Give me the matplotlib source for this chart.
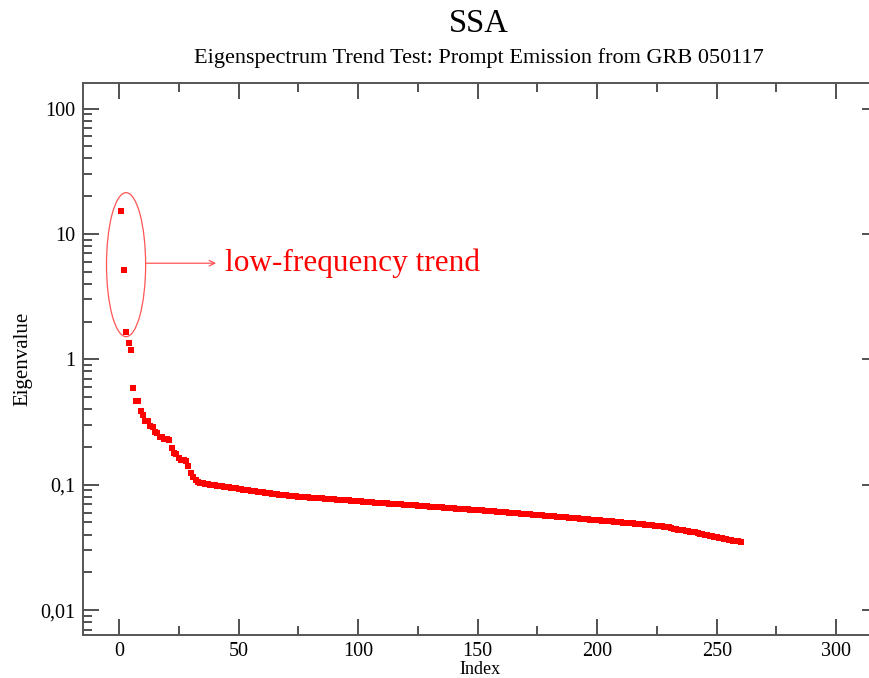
import matplotlib
matplotlib.use("Agg")
import matplotlib.pyplot as plt
from matplotlib.patches import Ellipse
from matplotlib.ticker import MultipleLocator, LogLocator, NullFormatter

plt.rcParams['font.family'] = ['Liberation Serif', 'DejaVu Serif']

# eigenvalues, index 1..260
head = [15.3, 5.2, 1.65, 1.35, 1.19, 0.59, 0.465, 0.465, 0.39, 0.36,
        0.325, 0.32, 0.295, 0.29, 0.265, 0.26, 0.24, 0.238, 0.232, 0.23,
        0.229, 0.196, 0.18, 0.175, 0.162, 0.158, 0.157, 0.155, 0.142, 0.125,
        0.115, 0.109, 0.106, 0.104, 0.103, 0.102, 0.101]
tail = [0.1000, 0.0994, 0.0988, 0.0981, 0.0976, 0.0970, 0.0965, 0.0959, 0.0953, 0.0947,
        0.0941, 0.0934, 0.0927, 0.0920, 0.0913, 0.0906, 0.0901, 0.0896, 0.0891, 0.0886,
        0.0880, 0.0874, 0.0869, 0.0864, 0.0858, 0.0853, 0.0848, 0.0843, 0.0837, 0.0832,
        0.0829, 0.0825, 0.0822, 0.0818, 0.0815, 0.0811, 0.0808, 0.0804, 0.0800, 0.0798,
        0.0795, 0.0793, 0.0790, 0.0788, 0.0785, 0.0783, 0.0780, 0.0778, 0.0775, 0.0772,
        0.0770, 0.0767, 0.0764, 0.0762, 0.0759, 0.0757, 0.0754, 0.0751, 0.0749, 0.0746,
        0.0744, 0.0741, 0.0739, 0.0736, 0.0733, 0.0730, 0.0728, 0.0726, 0.0724, 0.0721,
        0.0719, 0.0717, 0.0715, 0.0712, 0.0710, 0.0708, 0.0706, 0.0703, 0.0701, 0.0699,
        0.0697, 0.0694, 0.0692, 0.0690, 0.0688, 0.0685, 0.0683, 0.0681, 0.0679, 0.0676,
        0.0674, 0.0672, 0.0670, 0.0667, 0.0665, 0.0663, 0.0661, 0.0659, 0.0657, 0.0655,
        0.0653, 0.0650, 0.0648, 0.0646, 0.0644, 0.0642, 0.0640, 0.0638, 0.0636, 0.0634,
        0.0631, 0.0629, 0.0627, 0.0625, 0.0623, 0.0621, 0.0619, 0.0617, 0.0614, 0.0612,
        0.0610, 0.0608, 0.0606, 0.0604, 0.0602, 0.0600, 0.0597, 0.0595, 0.0593, 0.0591,
        0.0589, 0.0587, 0.0585, 0.0582, 0.0580, 0.0578, 0.0576, 0.0574, 0.0572, 0.0570,
        0.0567, 0.0565, 0.0563, 0.0561, 0.0559, 0.0557, 0.0555, 0.0552, 0.0550, 0.0548,
        0.0546, 0.0544, 0.0542, 0.0540, 0.0538, 0.0536, 0.0534, 0.0532, 0.0530, 0.0528,
        0.0526, 0.0524, 0.0522, 0.0520, 0.0518, 0.0516, 0.0514, 0.0512, 0.0510, 0.0508,
        0.0505, 0.0503, 0.0501, 0.0499, 0.0497, 0.0495, 0.0493, 0.0491, 0.0489, 0.0487,
        0.0485, 0.0483, 0.0481, 0.0478, 0.0476, 0.0474, 0.0472, 0.0470, 0.0468, 0.0466,
        0.0463, 0.0461, 0.0457, 0.0452, 0.0447, 0.0442, 0.0439, 0.0436, 0.0433, 0.0430,
        0.0426, 0.0423, 0.0420, 0.0416, 0.0412, 0.0408, 0.0404, 0.0400, 0.0396, 0.0392,
        0.0389, 0.0386, 0.0383, 0.0379, 0.0375, 0.0371, 0.0368, 0.0365, 0.0362, 0.0359,
        0.0356, 0.0353, 0.0350]
eigenvalues = head + tail
index = list(range(1, len(eigenvalues) + 1))

ytick_vals = [0.01, 0.1, 1, 10, 100]
ytick_labels = ['0,01', '0,1', '1', '10', '100']
xtick_vals = [0, 50, 100, 150, 200, 250, 300]

# -------------------------------------------------------------------------- #

fig = plt.figure(figsize=(8.69, 6.78), dpi=100)
ax = fig.add_axes([0.0952, 0.063, 0.915, 0.8142])

ax.plot(index, eigenvalues, 's', color='#ff0000', markersize=5, markeredgewidth=0)

ax.set_yscale('log')
ax.set_xlim(-15.2, 317.4)
ax.set_ylim(0.0063, 159)

ax.set_yticks(ytick_vals)
ax.set_yticklabels(ytick_labels)
ax.yaxis.set_minor_locator(LogLocator(base=10, subs=range(2, 10)))
ax.yaxis.set_minor_formatter(NullFormatter())
ax.set_xticks(xtick_vals)
ax.xaxis.set_minor_locator(MultipleLocator(25))

ax.tick_params(which='both', direction='in', top=True, right=True,
               color='#333333', width=1.2, labelsize=14.5, pad=5)
ax.tick_params(which='major', length=11.5)
ax.tick_params(which='minor', length=6.5)
for sp in ax.spines.values():
    sp.set_color('#555555')
    sp.set_linewidth(1.4)

ax.set_xlabel('Index', fontsize=13, labelpad=0)
ax.set_ylabel('Eigenvalue', fontsize=15, labelpad=6)

fig.text(0.551, 0.965, 'SSA', ha='center', va='center', fontsize=23.5)
fig.text(0.551, 0.915, 'Eigenspectrum Trend Test: Prompt Emission from GRB 050117',
         ha='center', va='center', fontsize=16)

# annotation around the first eigenvalues
ax.add_patch(Ellipse((0.0545, 0.6714), 0.0492, 0.2609, transform=ax.transAxes,
                     fill=False, edgecolor='#ff5555', linewidth=0.9))
ax.annotate('', xy=(40.6, 5.84), xytext=(11.3, 5.84),
            arrowprops=dict(arrowstyle='->', color='#ff5555', lw=0.9,
                            shrinkA=0, shrinkB=0))
ax.text(44.3, 5.84, 'low-frequency trend', color='#ff0000', fontsize=22.5,
        va='center', ha='left')

plt.savefig('out.png', dpi=100)
